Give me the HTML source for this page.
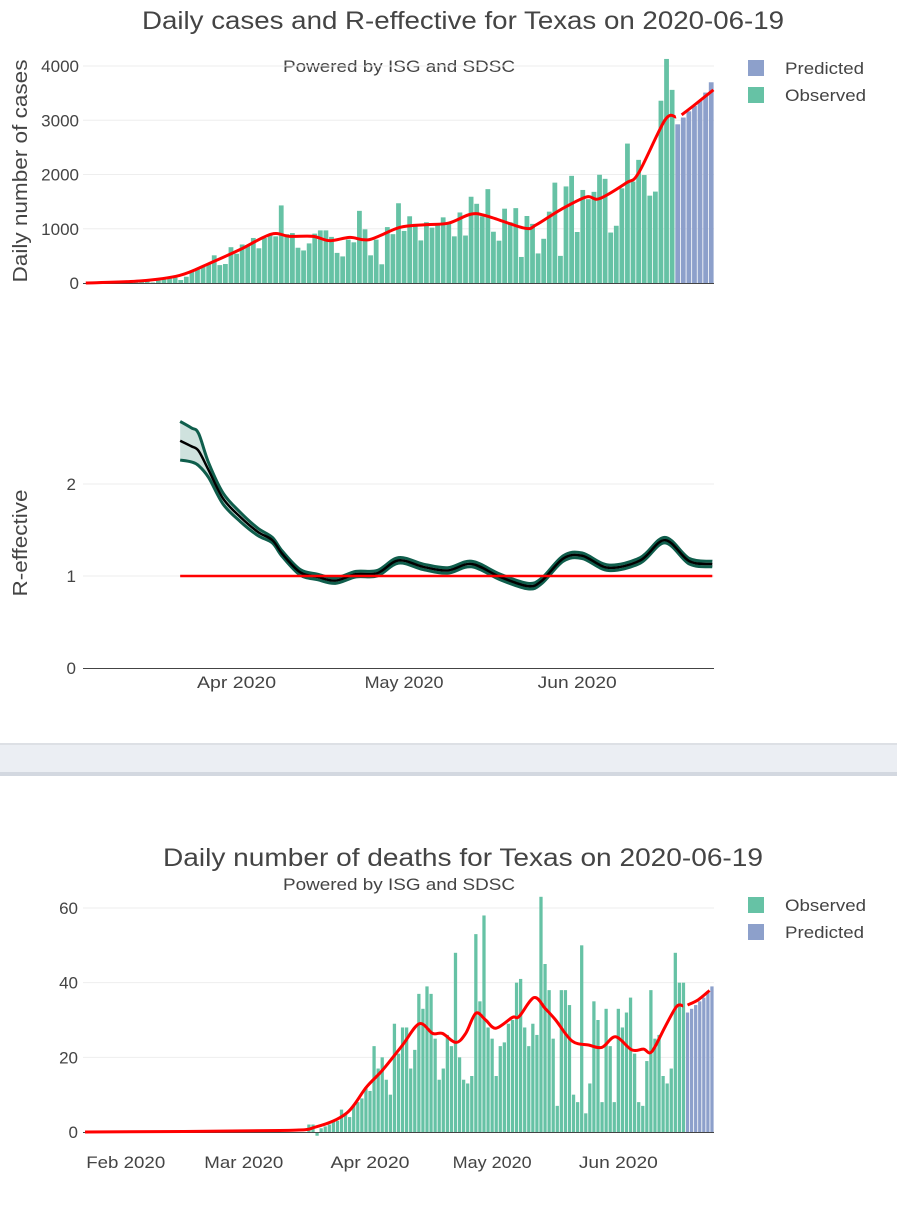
<!DOCTYPE html>
<html><head><meta charset="utf-8">
<style>
body{margin:0;background:#fff;width:897px;height:1200px;overflow:hidden;font-family:"Liberation Sans","DejaVu Sans",sans-serif;}
svg text{font-family:"Liberation Sans","DejaVu Sans",sans-serif;fill:#444;}
</style></head>
<body>
<svg id="s" width="897" height="1200" xmlns="http://www.w3.org/2000/svg">
<rect x="0" y="743" width="897" height="2" fill="#dde0e5"/>
<rect x="0" y="745" width="897" height="27" fill="#ebeef3"/>
<rect x="0" y="772" width="897" height="4" fill="#d3d8e0"/>
</svg>
<script>
// ---------- DATA: cases chart (day index from 2020-03-05) ----------
const casesObserved=[0,2,3,5,8,10,15,20,25,30,40,
30,10,90,85,100,100,55,115,210,270,300,345,510,330,350,660,540,710,700,830,640,830,890,860,1430,900,920,650,600,730,910,970,970,850,555,490,800,750,1330,990,510,800,345,1030,900,1470,
960,1230,1090,785,1120,1020,1090,1210,1120,860,1300,875,1590,1460,1230,1730,945,780,1370,1120,1380,480,1235,1090,545,815,1315,1850,500,1780,1975,940,1715,1545,1680,1995,1920,930,1055,1745,2570,1870,2270,1990,1610,1685,3360,4130,3560];
const casesPredicted=[2925,3050,3165,3265,3360,3510,3700];
const casesSmoothDays=[0,9.6,16.8,22.2,27.5,33.2,36.5,40.7,43.7,47.3,50.8,56.2,61,65,69,72,78.6,80.7,85,89.6,92,96.8,99,103.7,105.7];
const casesSmoothVals=[0,37,140,365,610,900,860,860,780,840,800,1025,1075,1105,1270,1230,1010,1075,1350,1585,1555,1845,2030,3000,3060];
const casesPredSmoothDays=[106.7,108.8,112.4];
const casesPredSmoothVals=[3100,3265,3560];
const casesTicks=[0,1000,2000,3000,4000];
const monthTickLabelsTop=["Apr 2020","May 2020","Jun 2020"];
const monthTickDaysTop=[27,57,88];
// ---------- DATA: R-effective ----------
const rDays=[17.4,19.4,20.7,22.5,25.1,28.2,31.3,33.9,35.7,38.9,42.0,45.2,48.9,52.7,56.5,60.9,65.3,69.6,74.7,79.7,82.2,86.0,89.4,94.1,99.8,104.2,108.6,112.7];
const rMean=[2.47,2.41,2.36,2.15,1.84,1.64,1.48,1.39,1.24,1.04,0.99,0.95,1.02,1.03,1.17,1.10,1.06,1.13,0.99,0.89,0.95,1.19,1.22,1.09,1.17,1.39,1.16,1.13];
const rUpper=[2.68,2.61,2.55,2.23,1.90,1.69,1.52,1.42,1.27,1.07,1.02,0.98,1.05,1.06,1.20,1.13,1.09,1.16,1.02,0.92,0.98,1.22,1.25,1.12,1.20,1.42,1.19,1.16];
const rLower=[2.26,2.24,2.20,2.07,1.78,1.59,1.44,1.36,1.21,1.01,0.96,0.92,0.99,1.00,1.14,1.07,1.03,1.10,0.96,0.86,0.92,1.16,1.19,1.06,1.14,1.36,1.13,1.10];
const rTicks=[0,1,2];
// ---------- DATA: deaths (day index from 2020-01-22) ----------
const deathsStartDay=55;
const deathsObserved=[2,2,-1,1,1.5,2,3,3,6,5,4,7,8,9,12,11,23,17,20,14,10,29,21,28,28,17,22,37,33,39,37,25,14,17,26,23,48,20,14,13,15,53,35,58,28,25,15,
23,24,29,30,40,41,28,23,29,26,63,45,38,25,7,38,38,34,10,8,50,5,13,35,30,8,33,23,8,33,28,32,36,21,8,7,19,38,25,26,15,13,17,48,40,40];
const deathsPredicted=[32,33,34,35,36,37.6,39];
const deathsSmoothDays=[0,47.8,56.8,64.2,69.1,73.1,78,82.1,85.4,87.8,91.1,93.5,96,98.4,100.9,105,106.6,110.3,113.1,115.6,119.6,123.7,127,130.3,134.3,137.2,139.2,142.5,145.3,146.9];
const deathsSmoothVals=[0,0.4,1.4,5,12,16.6,23.3,29,26.4,26.4,24,26.4,31.8,30,27.8,30.7,30.9,36,33,30,24.4,23.3,22.7,25.5,22,22.2,21.5,28.2,33.6,33.8];
const deathsPredSmoothDays=[148,150.6,153.4];
const deathsPredSmoothVals=[34,35.4,37.9];
const deathsTicks=[0,20,40,60];
const monthTickLabelsBottom=["Feb 2020","Mar 2020","Apr 2020","May 2020","Jun 2020"];
const monthTickDaysBottom=[10,39,70,100,131];

const OBS="#66c2a5",PRED="#8da0cb";
const svg=document.getElementById('s');
const NS="http://www.w3.org/2000/svg";
function mk(tag,attrs,parent){const e=document.createElementNS(NS,tag);for(const k in attrs)e.setAttribute(k,attrs[k]);(parent||svg).appendChild(e);return e;}
function txt(s,x,y,size,anchor,parent,len){const a={x:x,y:y,'font-size':size,'text-anchor':anchor||'middle'};if(len){a.textLength=len;a.lengthAdjust='spacingAndGlyphs';}const t=mk('text',a,parent);t.textContent=s;return t;}
function smoothPath(pts){let d="M"+pts[0][0]+","+pts[0][1];for(let i=0;i<pts.length-1;i++){const p0=pts[Math.max(0,i-1)],p1=pts[i],p2=pts[i+1],p3=pts[Math.min(pts.length-1,i+2)];const c1x=p1[0]+(p2[0]-p0[0])/6,c1y=p1[1]+(p2[1]-p0[1])/6,c2x=p2[0]-(p3[0]-p1[0])/6,c2y=p2[1]-(p3[1]-p1[1])/6;d+=" C"+c1x+","+c1y+" "+c2x+","+c2y+" "+p2[0]+","+p2[1];}return d;}

const X0=83,X1=714;
const topDays=113, wTop=(X1-X0)/topDays;
const xTop=d=>X0+d*wTop;
const yCases=v=>283-v*(283-66)/4000;
const yR=v=>668-v*92;
const botDays=155, wBot=(X1-X0)/botDays;
const xBot=d=>X0+d*wBot;
const yDeaths=v=>1132-v*(1132-908)/60;

// ===== Titles
let t=txt("Daily cases and R-effective for Texas on 2020-06-19",463,29,25,'middle',svg,642);

t=txt("Powered by ISG and SDSC",399,72,17,'middle',svg,232);


// ===== Cases chart
const gC=mk('g',{});

casesTicks.forEach(v=>{
  const y=yCases(v);
  if(v>0){const l=mk('line',{x1:X0,x2:X1,y1:y,y2:y,stroke:'#eee','stroke-width':1},gC);}
  const tt=txt(String(v),79,y+6,17,'end',gC);
});
casesObserved.forEach((v,i)=>{
  const y=yCases(Math.max(v,0));
  const r=mk('rect',{x:xTop(i)+0.4,y:y,width:wTop-0.8,height:Math.max(0,yCases(0)-y),fill:OBS},gC);
  
});
casesPredicted.forEach((v,i)=>{
  const d=casesObserved.length+i,y=yCases(v);
  const r=mk('rect',{x:xTop(d)+0.4,y:y,width:wTop-0.8,height:yCases(0)-y,fill:PRED},gC);
  
});
let l=mk('line',{x1:X0,x2:X1,y1:283.5,y2:283.5,stroke:'#444','stroke-width':1},gC);

let p=mk('path',{d:smoothPath(casesSmoothDays.map((d,i)=>[xTop(d+0.5),yCases(casesSmoothVals[i])])),fill:'none',stroke:'#f00','stroke-width':3},gC);

p=mk('path',{d:smoothPath(casesPredSmoothDays.map((d,i)=>[xTop(d+0.5),yCases(casesPredSmoothVals[i])])),fill:'none',stroke:'#f00','stroke-width':3},gC);

t=txt("Daily number of cases",0,0,20,'middle',gC,223);t.setAttribute('transform','translate(27,171) rotate(-90)');


// legend top
const lg1=mk('g',{});

let r=mk('rect',{x:748,y:60,width:16,height:16,fill:PRED},lg1);
t=txt("Predicted",785,74,17,'start',lg1,79);
r=mk('rect',{x:748,y:87,width:16,height:16,fill:OBS},lg1);
t=txt("Observed",785,101,17,'start',lg1,81);

// ===== R chart
const gR=mk('g',{});

rTicks.forEach(v=>{
  const y=yR(v);
  if(v>0){const g=mk('line',{x1:X0,x2:X1,y1:y,y2:y,stroke:'#eee','stroke-width':1},gR);}
  const tt=txt(String(v),76,y+6,17,'end',gR);
});
l=mk('line',{x1:X0,x2:X1,y1:668.5,y2:668.5,stroke:'#444','stroke-width':1},gR);

const up=rDays.map((d,i)=>[xTop(d),yR(rUpper[i])]), lo=rDays.map((d,i)=>[xTop(d),yR(rLower[i])]);
const loRev=lo.slice().reverse();
p=mk('path',{d:smoothPath(up)+" L"+loRev[0][0]+","+loRev[0][1]+smoothPath(loRev).replace(/^M[^C]*/,'')+" Z",fill:'rgba(17,110,90,0.2)',stroke:'none'},gR);

p=mk('path',{d:smoothPath(up),fill:'none',stroke:'#0f5e4c','stroke-width':3},gR);

p=mk('path',{d:smoothPath(lo),fill:'none',stroke:'#0f5e4c','stroke-width':3},gR);

p=mk('path',{d:smoothPath(rDays.map((d,i)=>[xTop(d),yR(rMean[i])])),fill:'none',stroke:'#000','stroke-width':2.5},gR);

l=mk('line',{x1:xTop(rDays[0]),x2:xTop(rDays[rDays.length-1]),y1:yR(1),y2:yR(1),stroke:'#f00','stroke-width':2.5},gR);

monthTickLabelsTop.forEach((s,i)=>{const tt=txt(s,xTop(monthTickDaysTop[i]+0.5),688,17,'middle',gR,79);});
t=txt("R-effective",0,0,20,'middle',gR,107);t.setAttribute('transform','translate(27,543) rotate(-90)');


// ===== Deaths chart
t=txt("Daily number of deaths for Texas on 2020-06-19",463,866,25,'middle',svg,600);

t=txt("Powered by ISG and SDSC",399,890,17,'middle',svg,232);

const gD=mk('g',{});

deathsTicks.forEach(v=>{
  const y=yDeaths(v);
  if(v>0){const g=mk('line',{x1:X0,x2:X1,y1:y,y2:y,stroke:'#eee','stroke-width':1},gD);}
  const tt=txt(String(v),78,y+6,17,'end',gD);
});
deathsObserved.forEach((v,i)=>{
  const d=deathsStartDay+i,ya=yDeaths(Math.max(v,0)),yb=yDeaths(Math.min(v,0));
  const rr=mk('rect',{x:xBot(d)+0.4,y:ya,width:wBot-0.8,height:yb-ya,fill:OBS},gD);
  
});
deathsPredicted.forEach((v,i)=>{
  const d=deathsStartDay+deathsObserved.length+i,y=yDeaths(v);
  const rr=mk('rect',{x:xBot(d)+0.4,y:y,width:wBot-0.8,height:yDeaths(0)-y,fill:PRED},gD);
  
});
l=mk('line',{x1:X0,x2:X1,y1:1132.5,y2:1132.5,stroke:'#444','stroke-width':1},gD);

p=mk('path',{d:smoothPath(deathsSmoothDays.map((d,i)=>[xBot(d+0.5),yDeaths(deathsSmoothVals[i])])),fill:'none',stroke:'#f00','stroke-width':3},gD);

p=mk('path',{d:smoothPath(deathsPredSmoothDays.map((d,i)=>[xBot(d+0.5),yDeaths(deathsPredSmoothVals[i])])),fill:'none',stroke:'#f00','stroke-width':3},gD);

monthTickLabelsBottom.forEach((s,i)=>{const tt=txt(s,xBot(monthTickDaysBottom[i]+0.5),1168,17,'middle',gD,79);});

const lg2=mk('g',{});

r=mk('rect',{x:748,y:897,width:16,height:16,fill:OBS},lg2);
t=txt("Observed",785,911,17,'start',lg2,81);
r=mk('rect',{x:748,y:924,width:16,height:16,fill:PRED},lg2);
t=txt("Predicted",785,938,17,'start',lg2,79);
</script>
</body></html>
